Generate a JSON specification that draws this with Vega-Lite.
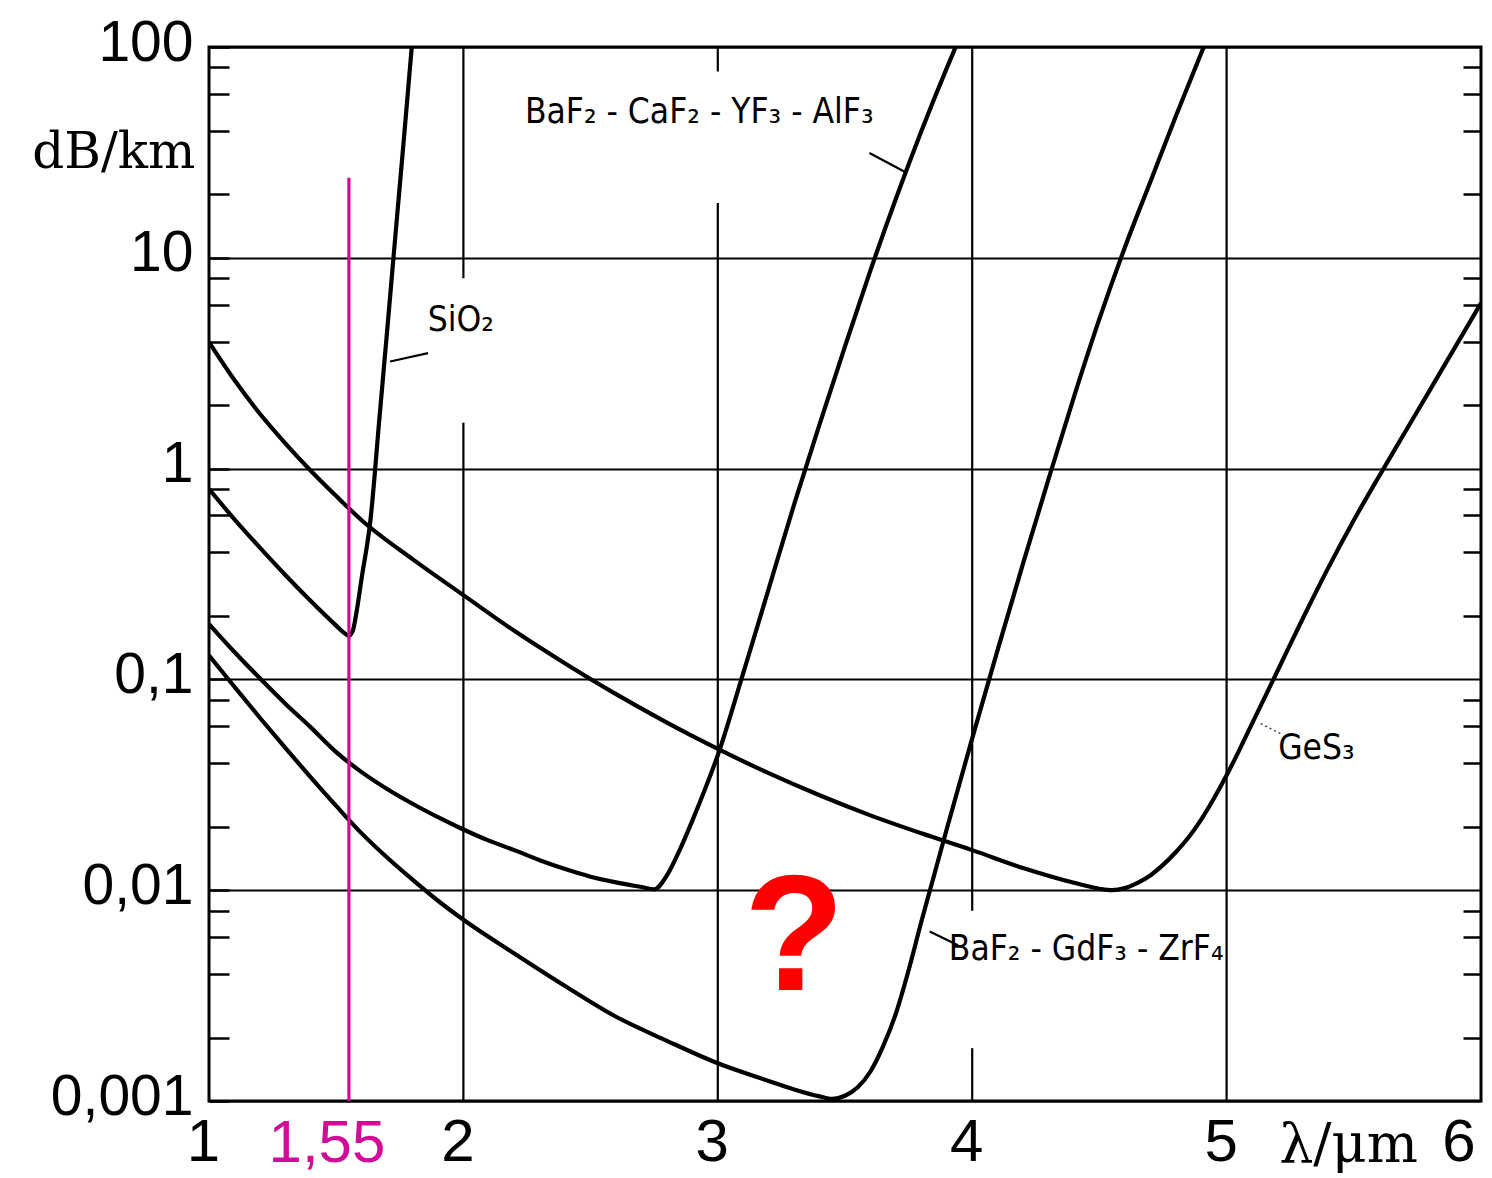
{
  "$schema": "https://vega.github.io/schema/vega-lite/v6.json",
  "width": 1272,
  "height": 1054,
  "autosize": {"type": "none"},
  "padding": {"left": 209, "top": 47, "right": 11, "bottom": 77},
  "background": "white",
  "config": {"view": {"stroke": "black", "strokeWidth": 3}},
  "datasets": {
    "curves": [
      {"glass": "SiO2", "wl": 1.0, "att": 0.80},
      {"glass": "SiO2", "wl": 1.1, "att": 0.575},
      {"glass": "SiO2", "wl": 1.2, "att": 0.422},
      {"glass": "SiO2", "wl": 1.3, "att": 0.313},
      {"glass": "SiO2", "wl": 1.4, "att": 0.2355},
      {"glass": "SiO2", "wl": 1.5, "att": 0.180},
      {"glass": "SiO2", "wl": 1.53, "att": 0.1667},
      {"glass": "SiO2", "wl": 1.55, "att": 0.161},
      {"glass": "SiO2", "wl": 1.565, "att": 0.170},
      {"glass": "SiO2", "wl": 1.58, "att": 0.209},
      {"glass": "SiO2", "wl": 1.60, "att": 0.302},
      {"glass": "SiO2", "wl": 1.635, "att": 0.575},
      {"glass": "SiO2", "wl": 1.67, "att": 1.74},
      {"glass": "SiO2", "wl": 1.70, "att": 4.47},
      {"glass": "SiO2", "wl": 1.73, "att": 11.7},
      {"glass": "SiO2", "wl": 1.765, "att": 35.5},
      {"glass": "SiO2", "wl": 1.797, "att": 100},

      {"glass": "GeS3", "wl": 1.0, "att": 3.98},
      {"glass": "GeS3", "wl": 1.1, "att": 2.63},
      {"glass": "GeS3", "wl": 1.2, "att": 1.82},
      {"glass": "GeS3", "wl": 1.3, "att": 1.318},
      {"glass": "GeS3", "wl": 1.4, "att": 0.977},
      {"glass": "GeS3", "wl": 1.5, "att": 0.741},
      {"glass": "GeS3", "wl": 1.6, "att": 0.569},
      {"glass": "GeS3", "wl": 1.8, "att": 0.372},
      {"glass": "GeS3", "wl": 2.0, "att": 0.251},
      {"glass": "GeS3", "wl": 2.2, "att": 0.170},
      {"glass": "GeS3", "wl": 2.4, "att": 0.119},
      {"glass": "GeS3", "wl": 2.6, "att": 0.0851},
      {"glass": "GeS3", "wl": 2.8, "att": 0.0624},
      {"glass": "GeS3", "wl": 3.0, "att": 0.0468},
      {"glass": "GeS3", "wl": 3.2, "att": 0.0359},
      {"glass": "GeS3", "wl": 3.4, "att": 0.0282},
      {"glass": "GeS3", "wl": 3.6, "att": 0.02265},
      {"glass": "GeS3", "wl": 3.8, "att": 0.01862},
      {"glass": "GeS3", "wl": 4.0, "att": 0.01549},
      {"glass": "GeS3", "wl": 4.2, "att": 0.01274},
      {"glass": "GeS3", "wl": 4.4, "att": 0.01084},
      {"glass": "GeS3", "wl": 4.5, "att": 0.01016},
      {"glass": "GeS3", "wl": 4.55, "att": 0.0100},
      {"glass": "GeS3", "wl": 4.6, "att": 0.01023},
      {"glass": "GeS3", "wl": 4.65, "att": 0.01084},
      {"glass": "GeS3", "wl": 4.7, "att": 0.01175},
      {"glass": "GeS3", "wl": 4.75, "att": 0.01318},
      {"glass": "GeS3", "wl": 4.8, "att": 0.01514},
      {"glass": "GeS3", "wl": 4.85, "att": 0.01778},
      {"glass": "GeS3", "wl": 4.9, "att": 0.02163},
      {"glass": "GeS3", "wl": 4.95, "att": 0.02723},
      {"glass": "GeS3", "wl": 5.0, "att": 0.0351},
      {"glass": "GeS3", "wl": 5.05, "att": 0.0462},
      {"glass": "GeS3", "wl": 5.1, "att": 0.0617},
      {"glass": "GeS3", "wl": 5.2, "att": 0.1096},
      {"glass": "GeS3", "wl": 5.3, "att": 0.195},
      {"glass": "GeS3", "wl": 5.4, "att": 0.339},
      {"glass": "GeS3", "wl": 5.5, "att": 0.569},
      {"glass": "GeS3", "wl": 5.6, "att": 0.923},
      {"glass": "GeS3", "wl": 5.7, "att": 1.479},
      {"glass": "GeS3", "wl": 5.8, "att": 2.371},
      {"glass": "GeS3", "wl": 5.9, "att": 3.80},
      {"glass": "GeS3", "wl": 6.0, "att": 6.10},

      {"glass": "BaF2-CaF2-YF3-AlF3", "wl": 1.0, "att": 0.183},
      {"glass": "BaF2-CaF2-YF3-AlF3", "wl": 1.1, "att": 0.1349},
      {"glass": "BaF2-CaF2-YF3-AlF3", "wl": 1.2, "att": 0.1012},
      {"glass": "BaF2-CaF2-YF3-AlF3", "wl": 1.3, "att": 0.0767},
      {"glass": "BaF2-CaF2-YF3-AlF3", "wl": 1.4, "att": 0.0592},
      {"glass": "BaF2-CaF2-YF3-AlF3", "wl": 1.5, "att": 0.0452},
      {"glass": "BaF2-CaF2-YF3-AlF3", "wl": 1.6, "att": 0.0363},
      {"glass": "BaF2-CaF2-YF3-AlF3", "wl": 1.7, "att": 0.0302},
      {"glass": "BaF2-CaF2-YF3-AlF3", "wl": 1.8, "att": 0.0257},
      {"glass": "BaF2-CaF2-YF3-AlF3", "wl": 1.9, "att": 0.0222},
      {"glass": "BaF2-CaF2-YF3-AlF3", "wl": 2.0, "att": 0.0194},
      {"glass": "BaF2-CaF2-YF3-AlF3", "wl": 2.1, "att": 0.01718},
      {"glass": "BaF2-CaF2-YF3-AlF3", "wl": 2.2, "att": 0.01549},
      {"glass": "BaF2-CaF2-YF3-AlF3", "wl": 2.3, "att": 0.01387},
      {"glass": "BaF2-CaF2-YF3-AlF3", "wl": 2.4, "att": 0.01259},
      {"glass": "BaF2-CaF2-YF3-AlF3", "wl": 2.5, "att": 0.01159},
      {"glass": "BaF2-CaF2-YF3-AlF3", "wl": 2.6, "att": 0.01089},
      {"glass": "BaF2-CaF2-YF3-AlF3", "wl": 2.7, "att": 0.01035},
      {"glass": "BaF2-CaF2-YF3-AlF3", "wl": 2.75, "att": 0.0101},
      {"glass": "BaF2-CaF2-YF3-AlF3", "wl": 2.8, "att": 0.01175},
      {"glass": "BaF2-CaF2-YF3-AlF3", "wl": 2.85, "att": 0.01549},
      {"glass": "BaF2-CaF2-YF3-AlF3", "wl": 2.9, "att": 0.02138},
      {"glass": "BaF2-CaF2-YF3-AlF3", "wl": 2.95, "att": 0.0302},
      {"glass": "BaF2-CaF2-YF3-AlF3", "wl": 3.0, "att": 0.0437},
      {"glass": "BaF2-CaF2-YF3-AlF3", "wl": 3.1, "att": 0.1072},
      {"glass": "BaF2-CaF2-YF3-AlF3", "wl": 3.2, "att": 0.269},
      {"glass": "BaF2-CaF2-YF3-AlF3", "wl": 3.3, "att": 0.676},
      {"glass": "BaF2-CaF2-YF3-AlF3", "wl": 3.4, "att": 1.622},
      {"glass": "BaF2-CaF2-YF3-AlF3", "wl": 3.5, "att": 3.80},
      {"glass": "BaF2-CaF2-YF3-AlF3", "wl": 3.6, "att": 8.71},
      {"glass": "BaF2-CaF2-YF3-AlF3", "wl": 3.7, "att": 19.05},
      {"glass": "BaF2-CaF2-YF3-AlF3", "wl": 3.8, "att": 39.8},
      {"glass": "BaF2-CaF2-YF3-AlF3", "wl": 3.9, "att": 79.4},
      {"glass": "BaF2-CaF2-YF3-AlF3", "wl": 3.935, "att": 100},

      {"glass": "BaF2-GdF3-ZrF4", "wl": 1.0, "att": 0.130},
      {"glass": "BaF2-GdF3-ZrF4", "wl": 1.1, "att": 0.0923},
      {"glass": "BaF2-GdF3-ZrF4", "wl": 1.2, "att": 0.0658},
      {"glass": "BaF2-GdF3-ZrF4", "wl": 1.3, "att": 0.0473},
      {"glass": "BaF2-GdF3-ZrF4", "wl": 1.4, "att": 0.0343},
      {"glass": "BaF2-GdF3-ZrF4", "wl": 1.5, "att": 0.0251},
      {"glass": "BaF2-GdF3-ZrF4", "wl": 1.6, "att": 0.0186},
      {"glass": "BaF2-GdF3-ZrF4", "wl": 1.7, "att": 0.01429},
      {"glass": "BaF2-GdF3-ZrF4", "wl": 1.8, "att": 0.01122},
      {"glass": "BaF2-GdF3-ZrF4", "wl": 1.9, "att": 0.00891},
      {"glass": "BaF2-GdF3-ZrF4", "wl": 2.0, "att": 0.00724},
      {"glass": "BaF2-GdF3-ZrF4", "wl": 2.2, "att": 0.00501},
      {"glass": "BaF2-GdF3-ZrF4", "wl": 2.4, "att": 0.00351},
      {"glass": "BaF2-GdF3-ZrF4", "wl": 2.6, "att": 0.00251},
      {"glass": "BaF2-GdF3-ZrF4", "wl": 2.8, "att": 0.00193},
      {"glass": "BaF2-GdF3-ZrF4", "wl": 3.0, "att": 0.00151},
      {"glass": "BaF2-GdF3-ZrF4", "wl": 3.2, "att": 0.001245},
      {"glass": "BaF2-GdF3-ZrF4", "wl": 3.3, "att": 0.001135},
      {"glass": "BaF2-GdF3-ZrF4", "wl": 3.4, "att": 0.001052},
      {"glass": "BaF2-GdF3-ZrF4", "wl": 3.45, "att": 0.001023},
      {"glass": "BaF2-GdF3-ZrF4", "wl": 3.5, "att": 0.001059},
      {"glass": "BaF2-GdF3-ZrF4", "wl": 3.55, "att": 0.001161},
      {"glass": "BaF2-GdF3-ZrF4", "wl": 3.6, "att": 0.00138},
      {"glass": "BaF2-GdF3-ZrF4", "wl": 3.65, "att": 0.00182},
      {"glass": "BaF2-GdF3-ZrF4", "wl": 3.7, "att": 0.0026},
      {"glass": "BaF2-GdF3-ZrF4", "wl": 3.75, "att": 0.00417},
      {"glass": "BaF2-GdF3-ZrF4", "wl": 3.8, "att": 0.00708},
      {"glass": "BaF2-GdF3-ZrF4", "wl": 3.85, "att": 0.01175},
      {"glass": "BaF2-GdF3-ZrF4", "wl": 3.9, "att": 0.0195},
      {"glass": "BaF2-GdF3-ZrF4", "wl": 4.0, "att": 0.0525},
      {"glass": "BaF2-GdF3-ZrF4", "wl": 4.1, "att": 0.138},
      {"glass": "BaF2-GdF3-ZrF4", "wl": 4.2, "att": 0.355},
      {"glass": "BaF2-GdF3-ZrF4", "wl": 4.3, "att": 0.891},
      {"glass": "BaF2-GdF3-ZrF4", "wl": 4.4, "att": 2.19},
      {"glass": "BaF2-GdF3-ZrF4", "wl": 4.5, "att": 5.13},
      {"glass": "BaF2-GdF3-ZrF4", "wl": 4.6, "att": 11.2},
      {"glass": "BaF2-GdF3-ZrF4", "wl": 4.7, "att": 22.9},
      {"glass": "BaF2-GdF3-ZrF4", "wl": 4.8, "att": 46.8},
      {"glass": "BaF2-GdF3-ZrF4", "wl": 4.91, "att": 100}
    ],
    "gridlines": [
      {"wl": 2, "att": 0.001, "att2": 1.65},
      {"wl": 2, "att": 8, "att2": 100},
      {"wl": 3, "att": 0.001, "att2": 18.2},
      {"wl": 3, "att": 76.5, "att2": 100},
      {"wl": 4, "att": 0.001, "att2": 0.00178},
      {"wl": 4, "att": 0.008, "att2": 100},
      {"wl": 5, "att": 0.001, "att2": 100}
    ],
    "marker": [
      {"label": "1,55", "wl": 1.55, "att": 0.001, "att2": 24}
    ],
    "names": [
      {"label": "BaF₂ - CaF₂ - YF₃ - AlF₃", "wl": 2.927, "att": 43.8},
      {"label": "SiO₂", "wl": 1.99, "att": 4.51},
      {"label": "GeS₃", "wl": 5.353, "att": 0.0419},
      {"label": "BaF₂ - GdF₃ - ZrF₄", "wl": 4.448, "att": 0.00467}
    ],
    "leaders": [
      {"glass": "BaF2-CaF2-YF3-AlF3", "wl": 3.596, "att": 31.4, "wl2": 3.740, "att2": 25.4},
      {"glass": "SiO2", "wl": 1.861, "att": 3.53, "wl2": 1.712, "att2": 3.22},
      {"glass": "GeS3", "wl": 5.134, "att": 0.0617, "wl2": 5.218, "att2": 0.0548},
      {"glass": "BaF2-GdF3-ZrF4", "wl": 3.833, "att": 0.00637, "wl2": 3.944, "att2": 0.00548}
    ],
    "query": [
      {"label": "?", "wl": 3.30, "att": 0.00336}
    ]
  },
  "encoding": {
    "x": {
      "field": "wl", "type": "quantitative",
      "scale": {"domain": [1, 6], "nice": false, "zero": false},
      "axis": {
        "orient": "bottom",
        "values": [1, 2, 3, 4, 5, 6],
        "format": "d",
        "ticks": false,
        "domain": false,
        "grid": false,
        "labelFont": "Liberation Sans",
        "labelFontSize": 60,
        "labelColor": "black",
        "labelPadding": 12,
        "labelOffset": -6,
        "labelFlush": false,
        "labelAlign": {"condition": {"test": "datum.value == 6", "value": "right"}, "value": "center"},
        "title": "λ/μm",
        "titleFont": "DejaVu Serif",
        "titleFontSize": 54,
        "titleFontWeight": "normal",
        "titleColor": "black",
        "titleAlign": "center",
        "titleBaseline": "alphabetic",
        "titleX": 1139,
        "titleY": 60
      }
    }
  },
  "resolve": {"axis": {"y": "independent"}},
  "layer": [
    {
      "description": "vertical grid segments, broken where the curve names sit; right-hand minor ticks",
      "data": {"name": "gridlines"},
      "mark": {"type": "rule", "color": "black", "strokeWidth": 2.2},
      "encoding": {
        "y": {
          "field": "att", "type": "quantitative",
          "scale": {"type": "log", "domain": [0.001, 100], "nice": false},
          "axis": {
            "orient": "right",
            "title": null,
            "values": [0.002, 0.004, 0.006, 0.008, 0.02, 0.04, 0.06, 0.08, 0.2, 0.4, 0.6, 0.8, 2, 4, 6, 8, 20, 40, 60, 80],
            "labels": false,
            "grid": false,
            "domain": false,
            "tickSize": -18,
            "tickWidth": 2.5,
            "tickColor": "black"
          }
        },
        "y2": {"field": "att2"}
      }
    },
    {
      "description": "attenuation curves",
      "data": {"name": "curves"},
      "mark": {"type": "line", "color": "black", "strokeWidth": 4.2, "interpolate": "monotone", "clip": true},
      "encoding": {
        "y": {
          "field": "att", "type": "quantitative",
          "axis": {
            "orient": "left",
            "values": [0.001, 0.002, 0.004, 0.006, 0.008, 0.01, 0.02, 0.04, 0.06, 0.08, 0.1, 0.2, 0.4, 0.6, 0.8, 1, 2, 4, 6, 8, 10, 20, 40, 60, 80, 100],
            "labelExpr": "datum.value == 0.001 ? '0,001' : datum.value == 0.01 ? '0,01' : datum.value == 0.1 ? '0,1' : datum.value == 1 ? '1' : datum.value == 10 ? '10' : datum.value == 100 ? '100' : ''",
            "grid": true,
            "gridColor": "black",
            "gridWidth": 2.2,
            "gridOpacity": {"condition": {"test": "indexof([0.001, 0.01, 0.1, 1, 10, 100], datum.value) >= 0", "value": 1}, "value": 0},
            "tickSize": -20,
            "tickWidth": 2.5,
            "tickColor": "black",
            "domain": false,
            "labelFont": "Liberation Sans",
            "labelFontSize": 57,
            "labelColor": "black",
            "labelPadding": 36,
            "labelBaseline": "middle",
            "labelOffset": -4,
            "labelOverlap": false,
            "labelFlush": false,
            "labelBound": false,
            "title": "dB/km",
            "titleFont": "DejaVu Serif",
            "titleFontSize": 50,
            "titleFontWeight": "normal",
            "titleColor": "black",
            "titleAngle": 0,
            "titleAlign": "right",
            "titleBaseline": "alphabetic",
            "titleX": -14,
            "titleY": 120
          }
        },
        "detail": {"field": "glass"}
      }
    },
    {
      "description": "1.55 um marker",
      "data": {"name": "marker"},
      "mark": {"type": "rule", "color": "#d10a98", "strokeWidth": 3.2},
      "encoding": {
        "y": {"field": "att", "type": "quantitative", "axis": null},
        "y2": {"field": "att2"}
      }
    },
    {
      "description": "value of the 1.55 um marker, under the axis",
      "data": {"name": "marker"},
      "mark": {"type": "text", "color": "#d10a98", "font": "Liberation Sans", "fontSize": 60, "align": "center", "baseline": "top", "dy": 14, "dx": -22},
      "encoding": {
        "y": {"field": "att", "type": "quantitative", "axis": null},
        "text": {"field": "label"}
      }
    },
    {
      "description": "leader strokes from names to curves",
      "data": {"name": "leaders"},
      "transform": [{"filter": "datum.glass != 'GeS3'"}],
      "mark": {"type": "rule", "color": "black", "strokeWidth": 2.2},
      "encoding": {
        "y": {"field": "att", "type": "quantitative", "axis": null},
        "x2": {"field": "wl2"},
        "y2": {"field": "att2"}
      }
    },
    {
      "description": "dotted leader for GeS3",
      "data": {"name": "leaders"},
      "transform": [{"filter": "datum.glass == 'GeS3'"}],
      "mark": {"type": "rule", "color": "#444444", "strokeWidth": 1.5, "strokeDash": [2, 3]},
      "encoding": {
        "y": {"field": "att", "type": "quantitative", "axis": null},
        "x2": {"field": "wl2"},
        "y2": {"field": "att2"}
      }
    },
    {
      "description": "glass names",
      "data": {"name": "names"},
      "mark": {"type": "text", "color": "black", "font": "Liberation Sans Narrow, DejaVu Sans Condensed, DejaVu Sans", "fontSize": 35, "align": "center", "baseline": "alphabetic"},
      "encoding": {
        "y": {"field": "att", "type": "quantitative", "axis": null},
        "text": {"field": "label"}
      }
    },
    {
      "description": "open question mark",
      "data": {"name": "query"},
      "mark": {"type": "text", "color": "#ff0000", "font": "Liberation Sans", "fontWeight": "bold", "fontSize": 165, "align": "center", "baseline": "alphabetic"},
      "encoding": {
        "y": {"field": "att", "type": "quantitative", "axis": null},
        "text": {"field": "label"}
      }
    }
  ]
}
